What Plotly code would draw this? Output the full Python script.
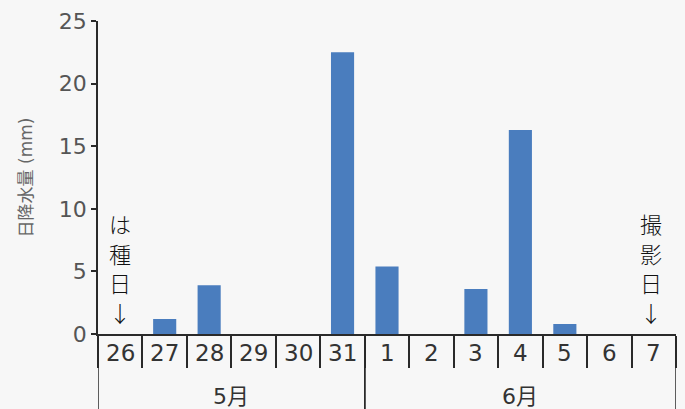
import plotly.graph_objects as go

# Daily precipitation, 26 May - 7 June
categories = ["26", "27", "28", "29", "30", "31", "1", "2", "3", "4", "5", "6", "7"]
rain_mm = [0, 1.2, 3.9, 0, 0, 22.5, 5.4, 0, 3.6, 16.3, 0.8, 0, 0]
months = ["5月", "6月"]
month_days = [6, 7]  # number of days in each month group
y_ticks = [0, 5, 10, 15, 20, 25]

BAR = "#4a7dbe"
BG = "#f7f7f7"
LINE = "#2a2a2a"
FONT = "DejaVu Sans, Noto Sans CJK JP, sans-serif"
CJK = "Noto Sans CJK JP, sans-serif"

fig = go.Figure()
fig.add_trace(go.Bar(x=categories, y=rain_mm, width=0.52,
                     marker=dict(color=BAR, line=dict(width=0))))

shapes = []
annotations = []

# Category labels inside the table row below the axis (positioned by index,
# since the day strings look numeric)
for i, c in enumerate(categories):
    annotations.append(dict(x=i, y=-0.062, xref="x", yref="paper", text=c,
                            showarrow=False, yanchor="middle",
                            font=dict(size=23, color="#333333", family=FONT)))

# Month row: labels centred on their group and dividers between groups
start = 0
for m, n in zip(months, month_days):
    centre = start + (n - 1) / 2
    annotations.append(dict(x=centre, y=-0.2, xref="x", yref="paper", text=m,
                            showarrow=False, yanchor="middle",
                            font=dict(size=22, color="#333333", family=FONT)))
    for edge in (start - 0.5, start + n - 0.5):
        shapes.append(dict(type="line", xref="x", yref="paper",
                           x0=edge, x1=edge, y0=0, y1=-0.3,
                           line=dict(color=LINE, width=1.5)))
    start += n

# Event markers: sowing day and photo day, written vertically (one glyph per
# line, stacked upward from an arrow pointing at the axis)
events = [(categories.index("26"), "は種日", 0), (categories.index("7"), "撮影日", -3)]
PITCH = 29.7
for idx, label, shift in events:
    glyphs = list(label) + ["↓"]
    for k, g in enumerate(reversed(glyphs)):
        annotations.append(dict(x=idx, y=0, xref="x", yref="y", text=g,
                                showarrow=False, yanchor="middle",
                                xshift=shift, yshift=22 + k * PITCH,
                                font=dict(size=22, color="#111111", family=CJK,
                                          weight=300)))

fig.update_layout(
    width=685, height=409,
    margin=dict(l=98, r=9, t=17, b=75, pad=0),
    paper_bgcolor=BG, plot_bgcolor=BG,
    showlegend=False,
    shapes=shapes,
    annotations=annotations,
    font=dict(family=FONT),
)
fig.update_xaxes(type="category", range=[-0.5, len(categories) - 0.5],
                 tickson="boundaries", ticks="outside", ticklen=32,
                 tickcolor=LINE, tickwidth=1.5, showticklabels=False,
                 showline=True, linecolor=LINE, linewidth=1.5,
                 showgrid=False, zeroline=False)
fig.update_yaxes(range=[0, 25], tickvals=y_ticks, ticks="outside", ticklen=5,
                 tickcolor=LINE, tickwidth=1.5,
                 showline=True, linecolor=LINE, linewidth=1.5,
                 showgrid=False, zeroline=False,
                 tickfont=dict(size=22, color="#555555", family=FONT),
                 title=dict(text="日降水量 (mm)", standoff=22,
                            font=dict(size=17, color="#666666", family=FONT)))

fig.write_html("out.html")
